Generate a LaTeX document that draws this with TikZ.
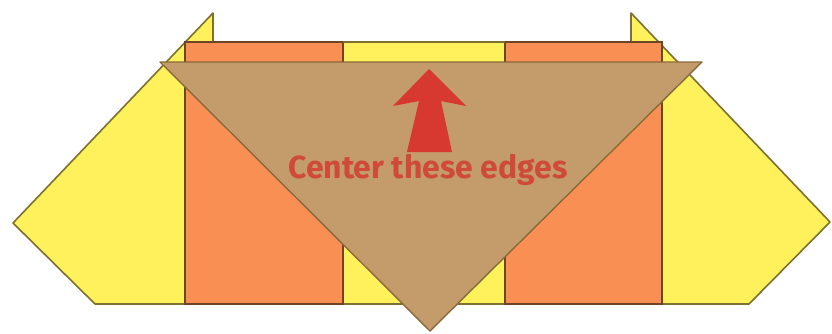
\documentclass[tikz,border=0pt]{standalone}
\usepackage{fontspec}
\newfontfamily\labelfont{Fira Sans}
\definecolor{paperY}{HTML}{FFF15C}
\definecolor{edgeY}{HTML}{7D7030}
\definecolor{paperO}{HTML}{F98F52}
\definecolor{edgeO}{HTML}{6E4426}
\definecolor{paperB}{HTML}{C49B6B}
\definecolor{edgeB}{HTML}{8A6A3A}
\definecolor{arrowR}{HTML}{D7382F}
\definecolor{textR}{HTML}{D04A38}
\tikzset{
  yellowpart/.style={fill=paperY, draw=edgeY, line width=1.6pt, line join=round},
  orangepart/.style={fill=paperO, draw=edgeO, line width=1.8pt},
  brownpart/.style={fill=paperB, draw=edgeB, line width=1.4pt, line join=round},
  redarrow/.style={fill=arrowR, draw=none},
}
\begin{document}
\begin{tikzpicture}[x=1pt,y=-1pt]
\fill[white] (0,0) rectangle (832,333);
\useasboundingbox (0,0) rectangle (832,333);
% yellow paper underneath
\path[yellowpart] (213,13) -- (13,223) -- (95,304) -- (749,304) -- (830,222) -- (631,13) -- (631,42) -- (213,42) -- cycle;
% orange flaps
\path[orangepart] (185,42) rectangle (343,304);
\path[orangepart] (505,42) rectangle (662,304);
% middle strip edges
\draw[edgeY, line width=1.6pt] (343,42) -- (505,42);
% brown triangle
\path[brownpart] (160,62) -- (702,62) -- (430,331) -- cycle;
% red arrow
\path[redarrow] (429,69) -- (466,106) -- (441,101) -- (452,152) -- (407,152) -- (419,101) -- (393,106) -- cycle;
% label
\node[text=textR, inner sep=0pt] (lbl) at (428,170) {\resizebox{279pt}{!}{\labelfont\bfseries Center these edges}};
\end{tikzpicture}
\end{document}
